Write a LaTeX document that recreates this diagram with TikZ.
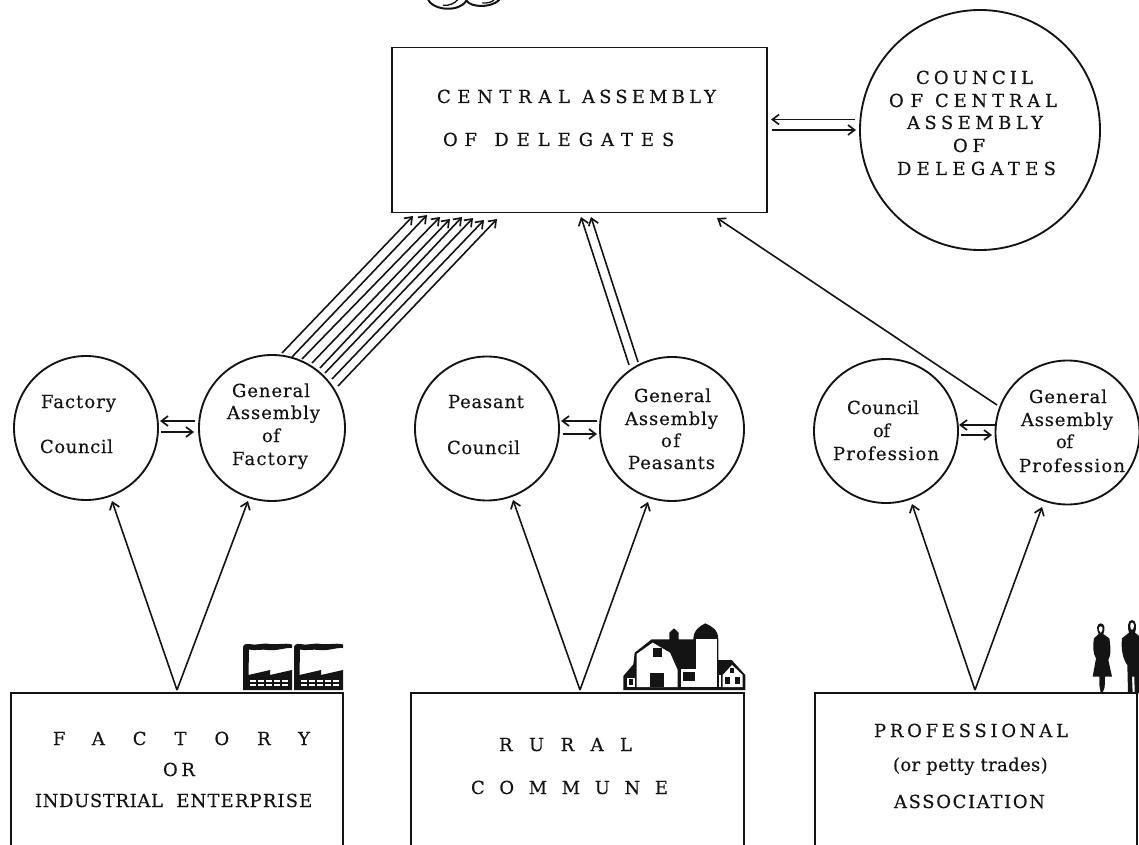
\documentclass[tikz,border=0pt]{standalone}
\usepackage{fontspec}
\setmainfont{DejaVu Serif}[FakeBold=0.35]
\usetikzlibrary{arrows.meta}
\newbox\fitbox
\newcommand\fitw[3]{{\setbox\fitbox=\hbox{#3}\pgfmathsetmacro\lsval{((#1)*0.75-\wd\fitbox)/((#2)-1)/13.5*100}\edef\lsopt{LetterSpace=\lsval}\expandafter\addfontfeature\expandafter{\lsopt}#3}}
\definecolor{ink}{HTML}{141414}
\tikzset{
  orb/.style={circle,draw=ink,line width=1.4pt,inner sep=0pt,outer sep=0pt},
  board/.style={rectangle,draw=ink,line width=1.3pt,inner sep=0pt,outer sep=0pt},
  stub/.style={rectangle,inner sep=0pt,outer sep=0pt},
  open/.style={draw=ink,line width=1.3pt},
  lbl/.style={anchor=base west,inner sep=0pt,outer sep=0pt,text=ink,font=\fontsize{13.5}{15}\selectfont},
  arr/.style={draw=ink,line width=1.2pt,-{Straight Barb[length=5pt,width=7.5pt,line width=1.25pt]}},
  inkfill/.style={fill=ink,draw=none},
  pale/.style={fill=white,draw=none},
}
\begin{document}
\begin{tikzpicture}[x=0.75pt,y=-0.75pt]
\useasboundingbox (0,0) rectangle (1139,845);
% boxes
\node[board,minimum width=281.25pt,minimum height=123.75pt] (cab) at (579.5,130) {};
\node[stub,minimum width=249pt,minimum height=114.75pt] (fac) at (177,769.5) {};
\node[stub,minimum width=249.75pt,minimum height=114.75pt] (rur) at (577.5,769.5) {};
\node[stub,minimum width=241.5pt,minimum height=114.75pt] (pro) at (976,769.5) {};
\draw[open] (fac.south west) |- (fac.north east) -- (fac.south east);
\draw[open] (rur.south west) |- (rur.north east) -- (rur.south east);
\draw[open] (pro.south west) |- (pro.north east) -- (pro.south east);
% circles
\node[orb,minimum size=180pt] (coc) at (980,130) {};
\node[orb,minimum size=108pt] (fc) at (86,428) {};
\node[orb,minimum size=109.5pt] (gaf) at (272,428) {};
\node[orb,minimum size=108pt] (pc) at (487,428.5) {};
\node[orb,minimum size=108pt] (gap) at (672,429) {};
\node[orb,minimum size=108pt] (cp) at (886,431) {};
\node[orb,minimum size=108pt] (gpr) at (1067.5,432.5) {};
% texts
\node[lbl] (t1) at (437,103) {\fitw{133}{7}{CENTRAL}\hspace{9pt}\fitw{134}{8}{ASSEMBLY}};
\node[lbl] (t2) at (443,146) {\fitw{34}{2}{OF}\hspace{13pt}\fitw{180}{9}{DELEGATES}};
\node[lbl] (t3) at (916,84) {\fitw{117}{7}{COUNCIL}};
\node[lbl] (t4) at (889,107) {\fitw{34}{2}{OF}\hspace{9pt}\fitw{122}{7}{CENTRAL}};
\node[lbl] (t5) at (907,129) {\fitw{136}{8}{ASSEMBLY}};
\node[lbl] (t6) at (953,152) {\fitw{32}{2}{OF}};
\node[lbl] (t7) at (897,175) {\fitw{159}{9}{DELEGATES}};
\node[lbl] (t8) at (41,408) {\fitw{75}{7}{Factory}};
\node[lbl] (t9) at (40,453) {\fitw{73}{7}{Council}};
\node[lbl] (t10) at (232,397) {\fitw{78}{7}{General}};
\node[lbl] (t11) at (227,419) {\fitw{93}{8}{Assembly}};
\node[lbl] (t12) at (262,442) {\fitw{18}{2}{of}};
\node[lbl] (t13) at (232,465) {\fitw{76}{7}{Factory}};
\node[lbl] (t14) at (448,408) {\fitw{76}{7}{Peasant}};
\node[lbl] (t15) at (447,454) {\fitw{73}{7}{Council}};
\node[lbl] (t16) at (634,402) {\fitw{77}{7}{General}};
\node[lbl] (t17) at (625,425) {\fitw{93}{8}{Assembly}};
\node[lbl] (t18) at (661,447) {\fitw{19}{2}{of}};
\node[lbl] (t19) at (628,469) {\fitw{87}{8}{Peasants}};
\node[lbl] (t20) at (847,414) {\fitw{72}{7}{Council}};
\node[lbl] (t21) at (873,437) {\fitw{17}{2}{of}};
\node[lbl] (t22) at (833,460) {\fitw{106}{10}{Profession}};
\node[lbl] (t23) at (1029,403) {\fitw{78}{7}{General}};
\node[lbl] (t24) at (1021,426) {\fitw{92}{8}{Assembly}};
\node[lbl] (t25) at (1056,448) {\fitw{17}{2}{of}};
\node[lbl] (t26) at (1019,472) {\fitw{106}{10}{Profession}};
\node[lbl] (t27) at (53,745) {\fitw{257}{7}{FACTORY}};
\node[lbl] (t28) at (163,776) {\fitw{32}{2}{OR}};
\node[lbl] (t29) at (35,807) {\fitw{128}{10}{INDUSTRIAL}\hspace{10pt}\fitw{136}{10}{ENTERPRISE}};
\node[lbl] (t30) at (499,751) {\fitw{133}{5}{RURAL}};
\node[lbl] (t31) at (471,794) {\fitw{197}{7}{COMMUNE}};
\node[lbl] (t32) at (874,737) {\fitw{194}{12}{PROFESSIONAL}};
\node[lbl] (t33) at (893,771) {\fitw{155}{16}{(or petty trades)}};
\node[lbl] (t34) at (894,808) {\fitw{151}{11}{ASSOCIATION}};
% council arrows
\draw[arr] ([shift={(-125,-10.5)}]coc.center) -- ([shift={(191.5,-10.5)}]cab.center);
\draw[arr] ([shift={(192.5,0)}]cab.center) -- ([shift={(-124,0)}]coc.center);
% circle pairs
\draw[arr] ([shift={(-77,-7)}]gaf.center) -- ([shift={(74,-7)}]fc.center);
\draw[arr] ([shift={(75,4)}]fc.center) -- ([shift={(-78,4)}]gaf.center);
\draw[arr] ([shift={(-75,-8)}]gap.center) -- ([shift={(74,-7.5)}]pc.center);
\draw[arr] ([shift={(76,5.5)}]pc.center) -- ([shift={(-75,5)}]gap.center);
\draw[arr] ([shift={(-71.5,-7.5)}]gpr.center) -- ([shift={(73,-6)}]cp.center);
\draw[arr] ([shift={(75,4)}]cp.center) -- ([shift={(-75.5,2.5)}]gpr.center);
% factory to central
\draw[arr] ([shift={(10,-75)}]gaf.center) -- ([shift={(-166.5,86)}]cab.center);
\draw[arr] ([shift={(20,-71)}]gaf.center) -- ([shift={(-152.5,85)}]cab.center);
\draw[arr] ([shift={(30,-69)}]gaf.center) -- ([shift={(-139.5,87)}]cab.center);
\draw[arr] ([shift={(40,-65)}]gaf.center) -- ([shift={(-129.5,89)}]cab.center);
\draw[arr] ([shift={(48,-60)}]gaf.center) -- ([shift={(-117.5,87)}]cab.center);
\draw[arr] ([shift={(53,-55)}]gaf.center) -- ([shift={(-106.5,88)}]cab.center);
\draw[arr] ([shift={(60,-49)}]gaf.center) -- ([shift={(-95.5,90)}]cab.center);
\draw[arr] ([shift={(66,-42)}]gaf.center) -- ([shift={(-82.5,89)}]cab.center);
% peasants to central
\draw[arr] ([shift={(-43,-64)}]gap.center) -- ([shift={(1.5,87)}]cab.center);
\draw[arr] ([shift={(-34,-67)}]gap.center) -- ([shift={(11.5,87)}]cab.center);
% profession to central
\draw[arr] ([shift={(-70.5,-27.5)}]gpr.center) -- ([shift={(137.5,88)}]cab.center);
% bottom fans
\coordinate (fa) at (177,690);
\coordinate (ra) at (580,690);
\coordinate (pa) at (975,690);
\draw[arr] (fa) -- ([shift={(26,73)}]fc.center);
\draw[arr] (fa) -- ([shift={(-24,73)}]gaf.center);
\draw[arr] (ra) -- ([shift={(26,71.5)}]pc.center);
\draw[arr] (ra) -- ([shift={(-24,73)}]gap.center);
\draw[arr] (pa) -- ([shift={(26,73)}]cp.center);
\draw[arr] (pa) -- ([shift={(-25.5,74.5)}]gpr.center);
% factory icon
\foreach \dx in {0,51}{
\begin{scope}[shift={(\dx,0)}]
\fill[inkfill] (243,690) -- (243,648) .. controls (243,645) and (245,643.5) .. (249,644)
  .. controls (256,646) and (262,642.5) .. (270,644) .. controls (278,645) and (284,642.5) .. (292,644.5)
  -- (292,648) .. controls (284,647.5) and (278,651) .. (268,650) .. controls (260,649) and (255,651) .. (249,649.5)
  -- (248.5,675) -- (270,670) -- (270,675) -- (292,670) -- (292,690) -- cycle;
\foreach \wx in {250,258,266,274,282}{
  \fill[pale] (\wx,680) rectangle ++(6,2.2);
  \fill[pale] (\wx,683.6) rectangle ++(6,2.2);
}
\end{scope}}
% barn icon
\begin{scope}[shift={(610,610)},x=0.25pt,y=-0.25pt]
\fill[inkfill] (40,240) -- (40,198) -- (70,163) -- (74,128) -- (125,88) -- (178,88) -- (178,68) -- (192,55) -- (206,68) -- (206,88) -- (250,88)
  .. controls (250,60) and (270,48) .. (286,40) .. controls (305,48) and (325,60) .. (325,88) -- (325,150) -- (365,150) -- (406,195) -- (406,240) -- cycle;
\fill[pale] (258,88) rectangle (320,231);
\fill[pale] (80,231) -- (80,132) -- (128,98) -- (180,128) -- (203,180) -- (203,231) -- cycle;
\fill[inkfill] (128,113) rectangle (155,140);
\fill[inkfill] (120,190) rectangle (162,231);
\fill[pale] (212,178) rectangle (258,231);
\fill[inkfill] (218,186) rectangle (256,212);
\fill[pale] (50,204) rectangle (74,231);
\fill[inkfill] (58,208) rectangle (70,224);
\fill[pale] (338,231) -- (338,195) -- (366,165) -- (398,195) -- (398,231) -- cycle;
\fill[pale] (326,195) rectangle (332,231);
\fill[inkfill] (345,202) rectangle (360,222);
\fill[inkfill] (375,202) rectangle (391,222);
\fill[inkfill] (361,173) rectangle (373,188);
\end{scope}
% people icon
\begin{scope}[shift={(1070,610)},x=0.25pt,y=-0.25pt]
\fill[inkfill] (92,40) .. controls (105,40) and (106,58) .. (100,72) -- (118,85) .. controls (122,110) and (124,135) .. (115,150)
  -- (126,200) -- (105,200) -- (104,232) -- (98,248) -- (92,248) -- (88,225) -- (88,200) -- (68,200) -- (78,145) .. controls (68,130) and (68,105) .. (72,85) -- (86,72)
  .. controls (78,58) and (80,40) .. (92,40) -- cycle;
\fill[pale] (92,49) .. controls (99,49) and (100,62) .. (92,68) .. controls (85,62) and (85,49) .. (92,49) -- cycle;
\fill[inkfill] (186,30) .. controls (200,30) and (200,55) .. (195,68) -- (207,78) -- (207,250) -- (194,250) -- (193,200) -- (186,200) -- (188,250) -- (174,250) -- (172,165)
  .. controls (160,150) and (152,120) .. (156,85) -- (177,68) .. controls (172,55) and (172,30) .. (186,30) -- cycle;
\fill[pale] (186,38) .. controls (194,38) and (194,55) .. (186,60) .. controls (179,55) and (179,38) .. (186,38) -- cycle;
\end{scope}
% flourish
\begin{scope}[shift={(400,0)},x=0.25pt,y=-0.25pt]
\draw[draw=ink,line width=1.5pt,line cap=round] (85,0) .. controls (95,20) and (130,30) .. (160,25) .. controls (185,20) and (195,10) .. (200,0);
\draw[draw=ink,line width=1.5pt,line cap=round] (200,3) .. controls (215,22) and (270,25) .. (298,0);
\draw[draw=ink,line width=1pt,line cap=round] (130,16) .. controls (145,18) and (165,10) .. (172,0);
\draw[draw=ink,line width=1pt,line cap=round] (248,9) .. controls (262,10) and (276,6) .. (282,0);
\end{scope}
\end{tikzpicture}
\end{document}
